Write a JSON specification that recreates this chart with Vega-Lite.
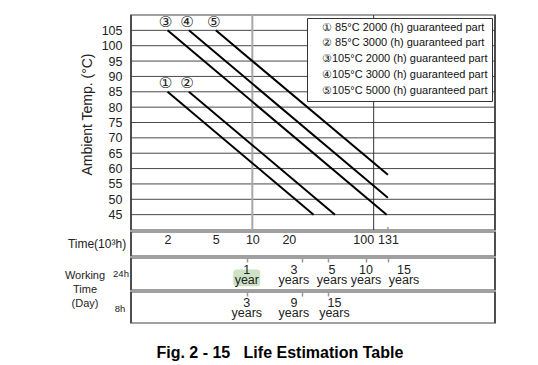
{
  "$schema": "https://vega.github.io/schema/vega-lite/v6.json",
  "padding": {"left": 63, "top": 13, "right": 0, "bottom": 0},
  "background": "white",
  "config": {"font": "Liberation Sans, Arial, sans-serif", "view": {"stroke": "#a0a0a0", "strokeWidth": 2}},
  "title": {"text": "Fig. 2 - 15\u00a0\u00a0\u00a0Life Estimation Table", "orient": "bottom", "anchor": "middle", "fontSize": 16, "fontWeight": "bold", "offset": 20, "color": "#000"},
  "datasets": {
    "temps": [{"t": 45}, {"t": 50}, {"t": 55}, {"t": 60}, {"t": 65}, {"t": 70}, {"t": 75}, {"t": 80}, {"t": 85}, {"t": 90}, {"t": 95}, {"t": 100}, {"t": 105}],
    "vlines": [{"g": 10}, {"g": 100}],
    "edges": [{"e": 1}, {"e": 1000}],
    "capTick": [{"h": 131, "t0": 40, "t1": 41}],
    "life": [
      {"series": "① 85°C 2000 (h) guaranteed part", "num": "①", "pt": "start", "h": 2, "temp": 85},
      {"series": "① 85°C 2000 (h) guaranteed part", "num": "①", "pt": "end", "h": 32, "temp": 45},
      {"series": "② 85°C 3000 (h) guaranteed part", "num": "②", "pt": "start", "h": 3, "temp": 85},
      {"series": "② 85°C 3000 (h) guaranteed part", "num": "②", "pt": "end", "h": 48, "temp": 45},
      {"series": "③105°C 2000 (h) guaranteed part", "num": "③", "pt": "start", "h": 2, "temp": 105},
      {"series": "③105°C 2000 (h) guaranteed part", "num": "③", "pt": "end", "h": 128, "temp": 45},
      {"series": "④105°C 3000 (h) guaranteed part", "num": "④", "pt": "start", "h": 3, "temp": 105},
      {"series": "④105°C 3000 (h) guaranteed part", "num": "④", "pt": "end", "h": 131, "temp": 50.5},
      {"series": "⑤105°C 5000 (h) guaranteed part", "num": "⑤", "pt": "start", "h": 5, "temp": 105},
      {"series": "⑤105°C 5000 (h) guaranteed part", "num": "⑤", "pt": "end", "h": 131, "temp": 58}
    ],
    "years24": [{"label": "1\nyear", "h": 9.0}, {"label": "3\nyears", "h": 22}, {"label": "5\nyears", "h": 45.4}, {"label": "10\nyears", "h": 86.5}, {"label": "15\nyears", "h": 178}],
    "years8": [{"label": "3\nyears", "h": 9.0}, {"label": "9\nyears", "h": 22}, {"label": "15\nyears", "h": 47.5}],
    "highlight": [{"h": 9.0}]
  },
  "spacing": -2,
  "resolve": {"scale": {"color": "independent"}},
  "vconcat": [
    {
      "spacing": 0,
      "bounds": "flush",
      "resolve": {"scale": {"color": "independent"}},
      "hconcat": [
        {"width": 68, "height": 215, "data": {"values": [{"txt": ""}]}, "mark": {"type": "text"}, "encoding": {"text": {"field": "txt"}}},
        {
          "width": 364,
          "height": 215,
          "resolve": {"axis": {"x": "independent", "y": "independent"}},
          "layer": [
            {
              "data": {"name": "temps"},
              "mark": {"type": "rule", "color": "#4a4a4a", "strokeWidth": 1},
              "encoding": {
                "y": {
                  "field": "t", "type": "quantitative",
                  "scale": {"domain": [40, 110], "nice": false, "zero": false},
                  "axis": {"values": [45, 50, 55, 60, 65, 70, 75, 80, 85, 90, 95, 100, 105], "title": "Ambient Temp. (°C)", "titleFontSize": 14, "titleFontWeight": "normal", "titleColor": "#222", "titleX": -44, "titleY": 99, "titleAngle": -90, "titleBaseline": "middle", "titleAlign": "center", "labelFontSize": 12.5, "labelColor": "#222", "labelPadding": 9, "labelOverlap": false, "labelFlush": false, "labelBound": false, "ticks": false, "tickSize": 0, "domain": false, "grid": false}
                }
              }
            },
            {
              "data": {"name": "vlines"},
              "transform": [{"filter": "datum.g == 10"}],
              "mark": {"type": "rule", "color": "#a8a8a8", "strokeWidth": 2},
              "encoding": {"x": {"field": "g", "type": "quantitative", "scale": {"type": "log", "domain": [1, 1000], "nice": false}, "axis": null}}
            },
            {
              "data": {"name": "vlines"},
              "transform": [{"filter": "datum.g == 100"}],
              "mark": {"type": "rule", "color": "#333", "strokeWidth": 1},
              "encoding": {"x": {"field": "g", "type": "quantitative", "axis": null}}
            },
            {
              "data": {"name": "edges"},
              "mark": {"type": "rule", "color": "#333", "strokeWidth": 1.5},
              "encoding": {"x": {"field": "e", "type": "quantitative", "axis": null}}
            },
            {
              "data": {"name": "capTick"},
              "mark": {"type": "rule", "color": "#999", "strokeWidth": 1.5},
              "encoding": {"x": {"field": "h", "type": "quantitative", "axis": null}, "y": {"field": "t0", "type": "quantitative", "axis": null}, "y2": {"field": "t1"}}
            },
            {
              "data": {"name": "life"},
              "mark": {"type": "line", "strokeWidth": 2},
              "encoding": {
                "x": {"field": "h", "type": "quantitative", "axis": null},
                "y": {"field": "temp", "type": "quantitative", "axis": null},
                "color": {
                  "field": "series", "type": "nominal",
                  "scale": {"range": ["#000000"]},
                  "legend": {"orient": "top-right", "offset": 3, "title": null, "symbolType": "stroke", "symbolSize": 0, "symbolStrokeWidth": 0, "symbolOpacity": 0, "labelOffset": 0, "labelFontSize": 11, "labelColor": "#111", "labelLimit": 400, "padding": 4, "rowPadding": 3.9, "strokeColor": "#333", "fillColor": "#fff"}
                }
              }
            },
            {
              "data": {"name": "life"},
              "transform": [{"filter": "datum.pt == 'start'"}],
              "mark": {"type": "text", "font": "DejaVu Sans", "fontSize": 15, "dx": -2, "dy": -8.5, "baseline": "middle", "color": "#222"},
              "encoding": {
                "x": {"field": "h", "type": "quantitative", "axis": null},
                "y": {"field": "temp", "type": "quantitative", "axis": null},
                "text": {"field": "num"}
              }
            }
          ]
        }
      ]
    },
    {
      "spacing": -6,
      "vconcat": [
        {
          "spacing": 0,
          "bounds": "flush",
          "hconcat": [
            {"width": 68, "height": 24, "data": {"values": [{"txt": "Time(10³h)"}]}, "mark": {"type": "text", "fontSize": 12, "color": "#222", "baseline": "middle"}, "encoding": {"text": {"field": "txt"}}},
            {"width": 364, "height": 24, "data": {"name": "edges"}, "mark": {"type": "rule", "color": "#333", "strokeWidth": 1.5},
             "encoding": {"x": {"field": "e", "type": "quantitative", "scale": {"type": "log", "domain": [1, 1000], "nice": false},
               "axis": {"orient": "top", "values": [2, 5, 10, 20, 100, 131], "format": "d", "title": null, "labelFontSize": 12.5, "labelColor": "#222", "labelPadding": -14, "labelBaseline": "bottom", "labelFlush": false, "labelOverlap": false, "labelBound": false, "labelAlign": {"condition": {"test": "datum.value == 100", "value": "right"}, "value": "center"}, "domain": false, "grid": false, "ticks": false, "tickSize": 0, "minExtent": 0, "maxExtent": 0}}}}
          ]
        },
        {
          "spacing": 0,
          "bounds": "flush",
          "hconcat": [
            {"width": 48, "height": 66, "data": {"values": [{"txt": "Working\nTime\n(Day)"}]}, "mark": {"type": "text", "fontSize": 11, "lineBreak": "\n", "lineHeight": 14, "baseline": "top", "dx": -2, "dy": -21, "color": "#222"}, "encoding": {"text": {"field": "txt"}}},
            {
              "spacing": -6,
              "vconcat": [
                {
                  "spacing": 0,
                  "bounds": "flush",
                  "hconcat": [
                    {"width": 20, "height": 32, "data": {"values": [{"txt": "24h"}]}, "mark": {"type": "text", "fontSize": 9.5, "dy": 0, "baseline": "middle", "color": "#222"}, "encoding": {"text": {"field": "txt"}}},
                    {
                      "width": 364,
                      "height": 32,
                      "layer": [
                        {"data": {"name": "edges"}, "mark": {"type": "rule", "color": "#333", "strokeWidth": 1.5}, "encoding": {"x": {"field": "e", "type": "quantitative", "scale": {"type": "log", "domain": [1, 1000], "nice": false}, "axis": {"orient": "top", "offset": -4, "values": [9, 25.5, 42.3, 86, 131.3], "labels": false, "domain": false, "grid": false, "ticks": true, "tickSize": 4, "tickColor": "#999", "tickWidth": 1.5, "title": null, "minExtent": 0, "maxExtent": 0}}}},
                        {"data": {"name": "highlight"}, "mark": {"type": "point", "shape": "M-0.75,-0.34L0.75,-0.34Q1,-0.34 1,-0.09L1,0.65Q1,0.9 0.75,0.9L-0.75,0.9Q-1,0.9 -1,0.65L-1,-0.09Q-1,-0.34 -0.75,-0.34Z", "size": 729, "filled": true, "color": "#cde3c6", "opacity": 1, "strokeWidth": 0}, "encoding": {"x": {"field": "h", "type": "quantitative"}}},
                        {"data": {"name": "years24"}, "mark": {"type": "text", "fontSize": 12.5, "lineBreak": "\n", "lineHeight": 10, "baseline": "top", "dy": -10.4, "color": "#222"}, "encoding": {"x": {"field": "h", "type": "quantitative"}, "text": {"field": "label"}}}
                      ]
                    }
                  ]
                },
                {
                  "spacing": 0,
                  "bounds": "flush",
                  "hconcat": [
                    {"width": 20, "height": 31, "data": {"values": [{"txt": "8h"}]}, "mark": {"type": "text", "fontSize": 9.5, "dy": 1.5, "dx": -1, "baseline": "middle", "color": "#222"}, "encoding": {"text": {"field": "txt"}}},
                    {
                      "width": 364,
                      "height": 31,
                      "layer": [
                        {"data": {"name": "edges"}, "mark": {"type": "rule", "color": "#333", "strokeWidth": 1.5}, "encoding": {"x": {"field": "e", "type": "quantitative", "scale": {"type": "log", "domain": [1, 1000], "nice": false}, "axis": {"orient": "top", "offset": -4, "values": [9, 25.5, 42.3], "labels": false, "domain": false, "grid": false, "ticks": true, "tickSize": 4, "tickColor": "#999", "tickWidth": 1.5, "title": null, "minExtent": 0, "maxExtent": 0}}}},
                        {"data": {"name": "years8"}, "mark": {"type": "text", "fontSize": 12.5, "lineBreak": "\n", "lineHeight": 10, "baseline": "top", "dy": -10.4, "color": "#222"}, "encoding": {"x": {"field": "h", "type": "quantitative"}, "text": {"field": "label"}}}
                      ]
                    }
                  ]
                }
              ]
            }
          ]
        }
      ]
    }
  ]
}
